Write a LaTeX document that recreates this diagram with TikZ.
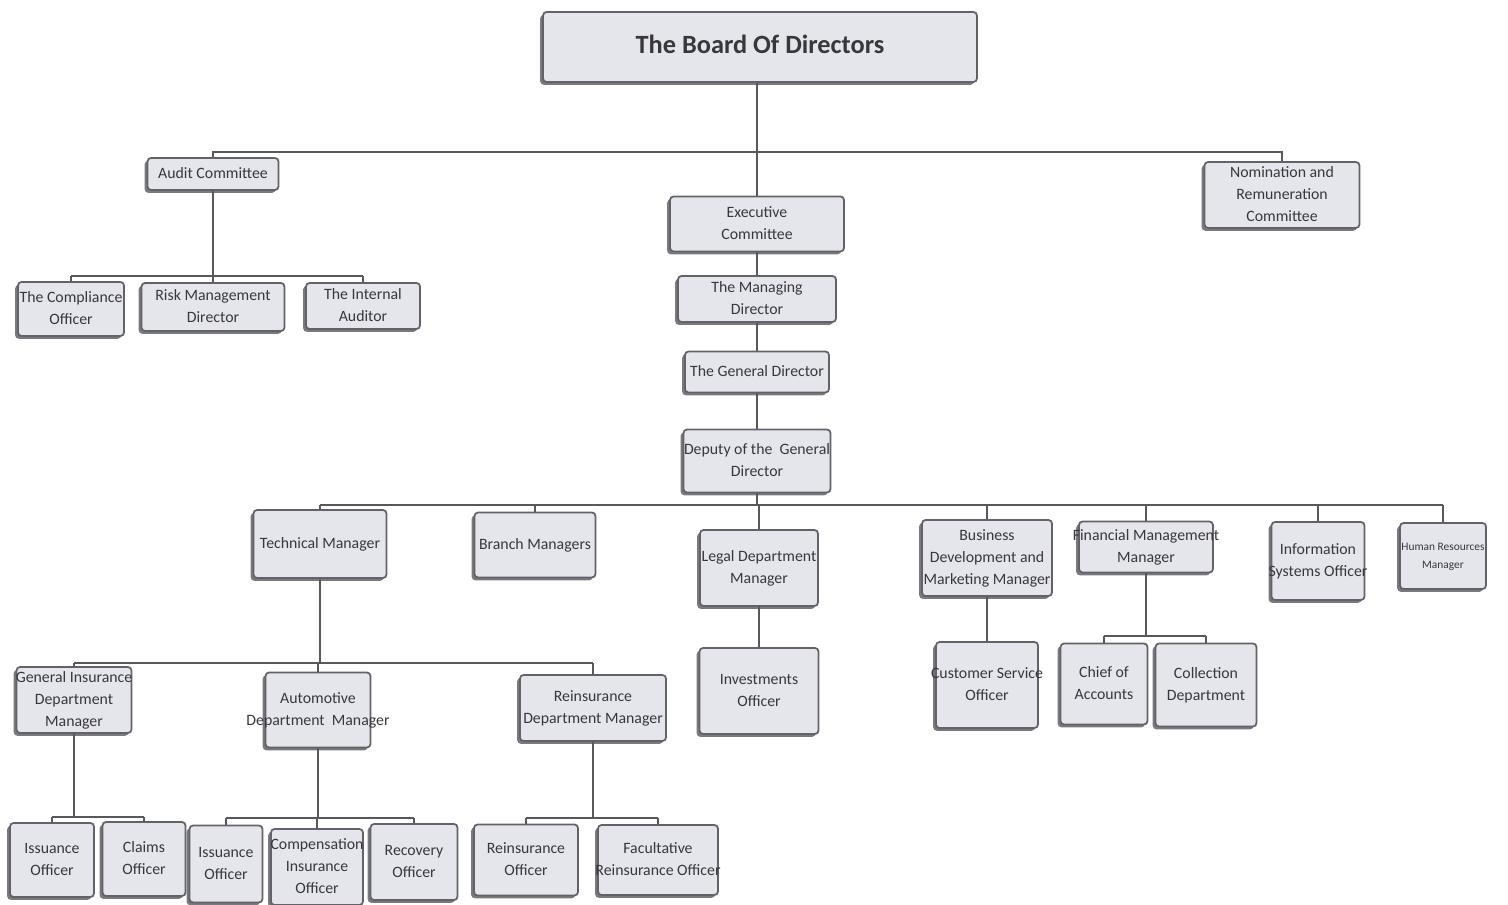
\documentclass[tikz,border=0pt]{standalone}
\usepackage{fontspec}
\setmainfont{Carlito}
\usetikzlibrary{shadows}
\definecolor{boxfill}{RGB}{229,229,236}
\definecolor{boxedge}{RGB}{98,98,104}
\definecolor{linegray}{RGB}{88,88,92}
\definecolor{textgray}{RGB}{55,55,60}
% lines of a box, centred, allowed to run over its edges
\newcommand{\boxlines}[1]{\makebox[0pt]{\begin{tabular}{@{}c@{}}#1\end{tabular}}}
\begin{document}
\begin{tikzpicture}[x=0.02cm, y=-0.02cm,
  box/.style={draw=boxedge, line width=1pt, fill=boxfill, rounded corners=2pt,
    inner sep=0pt, text=textgray, font=\fontsize{9}{12.5}\selectfont,
    drop shadow={shadow xshift=-1.6pt, shadow yshift=-1.6pt, fill=boxedge, opacity=0.85}},
  link/.style={draw=linegray, line width=1.1pt}]
\useasboundingbox (0,0) rectangle (1508,905);
% top level
\node[box, minimum width=8.68cm, minimum height=1.4cm, font=\fontsize{15}{18}\selectfont\bfseries] (board) at (760,47) {\boxlines{The Board Of Directors}};
\node[box, minimum width=2.62cm, minimum height=0.64cm] (audit) at (213,174) {\boxlines{Audit Committee}};
\node[box, minimum width=3.1cm, minimum height=1.28cm] (nomination) at (1282,195) {\boxlines{Nomination and\\Remuneration\\Committee}};
\node[box, minimum width=3.48cm, minimum height=1.1cm] (exec) at (757,224) {\boxlines{Executive\\Committee}};
\node[box, minimum width=3.16cm, minimum height=0.92cm] (managing) at (757,299) {\boxlines{The Managing\\Director}};
\node[box, minimum width=2.88cm, minimum height=0.82cm] (general) at (757,372) {\boxlines{The General Director}};
\node[box, minimum width=2.94cm, minimum height=1.26cm] (deputy) at (757,461) {\boxlines{Deputy of the\ \ General\\Director}};
% audit committee
\node[box, minimum width=2.12cm, minimum height=1.08cm] (compliance) at (71,309) {\boxlines{The Compliance\\Officer}};
\node[box, minimum width=2.86cm, minimum height=0.96cm] (risk) at (213,307) {\boxlines{Risk Management\\Director}};
\node[box, minimum width=2.28cm, minimum height=0.92cm] (internal) at (363,306) {\boxlines{The Internal\\Auditor}};
% managers
\node[box, minimum width=2.66cm, minimum height=1.36cm] (technical) at (320,544) {\boxlines{Technical Manager}};
\node[box, minimum width=2.42cm, minimum height=1.3cm] (branch) at (535,545) {\boxlines{Branch Managers}};
\node[box, minimum width=2.36cm, minimum height=1.52cm] (legal) at (759,568) {\boxlines{Legal Department\\Manager}};
\node[box, minimum width=2.6cm, minimum height=1.52cm] (business) at (987,558) {\boxlines{Business\\Development and\\Marketing Manager}};
\node[box, minimum width=2.68cm, minimum height=1.02cm] (financial) at (1146,547) {\boxlines{Financial Management\\Manager}};
\node[box, minimum width=1.86cm, minimum height=1.56cm] (infosys) at (1318,561) {\boxlines{Information\\Systems Officer}};
\node[box, minimum width=1.72cm, minimum height=1.32cm, font=\fontsize{6.5}{10}\selectfont] (hr) at (1443,556) {\boxlines{Human Resources\\Manager}};
% departments
\node[box, minimum width=2.3cm, minimum height=1.2cm] (geninsurance) at (74,700) {\boxlines{General Insurance\\Department\\Manager}};
\node[box, minimum width=2.1cm, minimum height=1.5cm] (automotive) at (318,710) {\boxlines{Automotive\\Department\ \ Manager}};
\node[box, minimum width=2.92cm, minimum height=1.32cm] (reinsmgr) at (593,708) {\boxlines{Reinsurance\\Department Manager}};
\node[box, minimum width=2.38cm, minimum height=1.72cm] (investments) at (759,691) {\boxlines{Investments\\Officer}};
\node[box, minimum width=2.04cm, minimum height=1.72cm] (customer) at (987,685) {\boxlines{Customer Service\\Officer}};
\node[box, minimum width=1.74cm, minimum height=1.62cm] (chief) at (1104,684) {\boxlines{Chief of\\Accounts}};
\node[box, minimum width=2.02cm, minimum height=1.66cm] (collection) at (1206,685) {\boxlines{Collection\\Department}};
% officers
\node[box, minimum width=1.68cm, minimum height=1.48cm] (issuanceA) at (52,860) {\boxlines{Issuance\\Officer}};
\node[box, minimum width=1.66cm, minimum height=1.48cm] (claims) at (144,859) {\boxlines{Claims\\Officer}};
\node[box, minimum width=1.46cm, minimum height=1.54cm] (issuanceB) at (226,864) {\boxlines{Issuance\\Officer}};
\node[box, minimum width=1.84cm, minimum height=1.52cm] (compensation) at (317,867) {\boxlines{Compensation\\Insurance\\Officer}};
\node[box, minimum width=1.74cm, minimum height=1.52cm] (recovery) at (414,862) {\boxlines{Recovery\\Officer}};
\node[box, minimum width=2.08cm, minimum height=1.42cm] (reinsofficer) at (526,860) {\boxlines{Reinsurance\\Officer}};
\node[box, minimum width=2.4cm, minimum height=1.4cm] (facultative) at (658,860) {\boxlines{Facultative\\Reinsurance Officer}};
% bus lines
\coordinate (topbus) at (757,152);
\coordinate (auditbus) at (213,276);
\coordinate (mgrbus) at (757,505);
\coordinate (techbus) at (320,663);
\coordinate (finbus) at (1146,636);
\coordinate (genbus) at (74,817);
\coordinate (autobus) at (318,818);
\coordinate (reinsbus) at (593,818);
% connectors
\draw[link] (board.south -| exec.north) -- (exec.north);
\draw[link] (audit.north) -- (audit.north |- topbus) -- (nomination.north |- topbus) -- (nomination.north);
\draw[link] (exec) -- (managing);
\draw[link] (managing) -- (general);
\draw[link] (general) -- (deputy);
\draw[link] (audit) -- (auditbus);
\draw[link] (compliance.north |- auditbus) -- (internal.north |- auditbus);
\foreach \c in {compliance,risk,internal}
  \draw[link] (\c.north) -- (\c.north |- auditbus);
\draw[link] (deputy) -- (mgrbus);
\draw[link] (technical.north |- mgrbus) -- (hr.north |- mgrbus);
\foreach \c in {technical,branch,legal,business,financial,infosys,hr}
  \draw[link] (\c.north) -- (\c.north |- mgrbus);
\draw[link] (technical) -- (techbus);
\draw[link] (geninsurance.north |- techbus) -- (reinsmgr.north |- techbus);
\foreach \c in {geninsurance,automotive,reinsmgr}
  \draw[link] (\c.north) -- (\c.north |- techbus);
\draw[link] (legal) -- (investments);
\draw[link] (business) -- (customer);
\draw[link] (financial) -- (finbus);
\draw[link] (chief.north |- finbus) -- (collection.north |- finbus);
\foreach \c in {chief,collection}
  \draw[link] (\c.north) -- (\c.north |- finbus);
\draw[link] (geninsurance) -- (genbus);
\draw[link] (issuanceA.north |- genbus) -- (claims.north |- genbus);
\foreach \c in {issuanceA,claims}
  \draw[link] (\c.north) -- (\c.north |- genbus);
\draw[link] (automotive) -- (autobus);
\draw[link] (issuanceB.north |- autobus) -- (recovery.north |- autobus);
\foreach \c in {issuanceB,compensation,recovery}
  \draw[link] (\c.north) -- (\c.north |- autobus);
\draw[link] (reinsmgr) -- (reinsbus);
\draw[link] (reinsofficer.north |- reinsbus) -- (facultative.north |- reinsbus);
\foreach \c in {reinsofficer,facultative}
  \draw[link] (\c.north) -- (\c.north |- reinsbus);
\end{tikzpicture}
\end{document}
